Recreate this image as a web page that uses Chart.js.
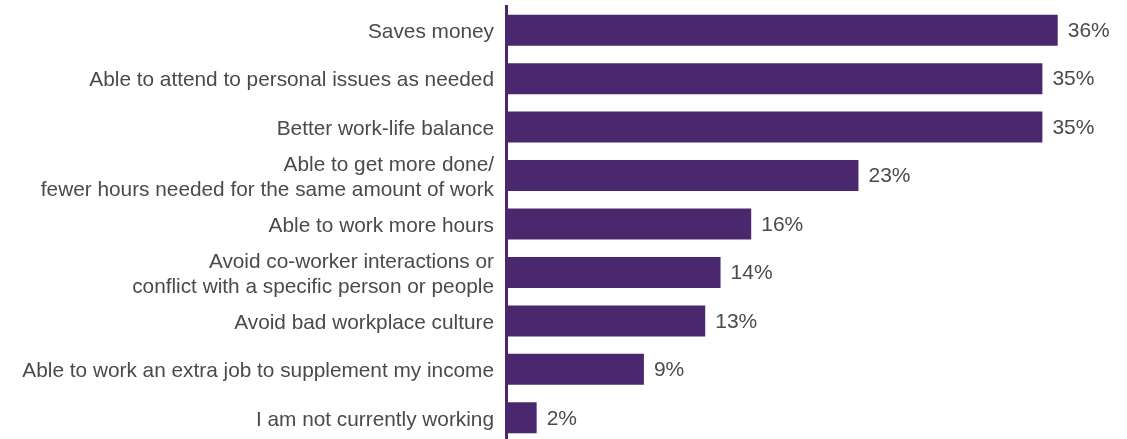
<!DOCTYPE html>
<html>
<head>
<meta charset="utf-8">
<script src="https://cdn.jsdelivr.net/npm/chart.js@4/dist/chart.umd.min.js"></script>
<style>
  html, body { margin: 0; padding: 0; background: #fff; overflow: hidden; }
  #wrap { position: relative; width: 1127px; height: 444px; }
</style>
</head>
<body>
<div id="wrap"><canvas id="reasons"></canvas></div>
<script>
// Reasons for working remotely, share of respondents
const reasons = [
    'Saves money',
    'Able to attend to personal issues as needed',
    'Better work-life balance',
    ['Able to get more done/', 'fewer hours needed for the same amount of work'],
    'Able to work more hours',
    ['Avoid co-worker interactions or', 'conflict with a specific person or people'],
    'Avoid bad workplace culture',
    'Able to work an extra job to supplement my income',
    'I am not currently working'
];
const shares = [36, 35, 35, 23, 16, 14, 13, 9, 2];

const barColor = '#4b286d';
const textColor = '#4a4a4a';
const fontFamily = '"Liberation Sans", Arial, sans-serif';

// Draw "NN%" just past the end of each bar
const valueLabels = {
    id: 'valueLabels',
    afterDatasetsDraw(chart) {
        const ctx = chart.ctx;
        const meta = chart.getDatasetMeta(0);
        ctx.save();
        ctx.font = '21px ' + fontFamily;
        ctx.fillStyle = textColor;
        ctx.textAlign = 'left';
        ctx.textBaseline = 'middle';
        meta.data.forEach((bar, i) => {
            ctx.fillText(shares[i] + '%', bar.x + 10, bar.y + 1);
        });
        ctx.restore();
    }
};

new Chart(document.getElementById('reasons'), {
    type: 'bar',
    data: {
        labels: reasons,
        datasets: [{
            data: shares,
            backgroundColor: barColor,
            borderWidth: 0,
            barPercentage: 0.64,
            categoryPercentage: 1.0
        }]
    },
    options: {
        indexAxis: 'y',
        responsive: true,
        maintainAspectRatio: false,
        animation: false,
        layout: { padding: { top: 6, right: 8, bottom: 2, left: 0 } },
        plugins: {
            legend: { display: false },
            tooltip: { enabled: false }
        },
        scales: {
            x: {
                display: false,
                min: 0,
                max: 40
            },
            y: {
                grid: { display: false, drawTicks: false },
                border: { display: true, color: barColor, width: 3 },
                afterFit(axis) {
                    // fixed label column, no extra room above/below the bars
                    axis.width = 506;
                    axis.paddingTop = 0;
                    axis.paddingBottom = 0;
                },
                ticks: {
                    autoSkip: false,
                    color: textColor,
                    padding: 12,
                    labelOffset: 2,
                    font: { family: fontFamily, size: 20.8, lineHeight: 1.2 }
                }
            }
        }
    },
    plugins: [valueLabels]
});
</script>
</body>
</html>
